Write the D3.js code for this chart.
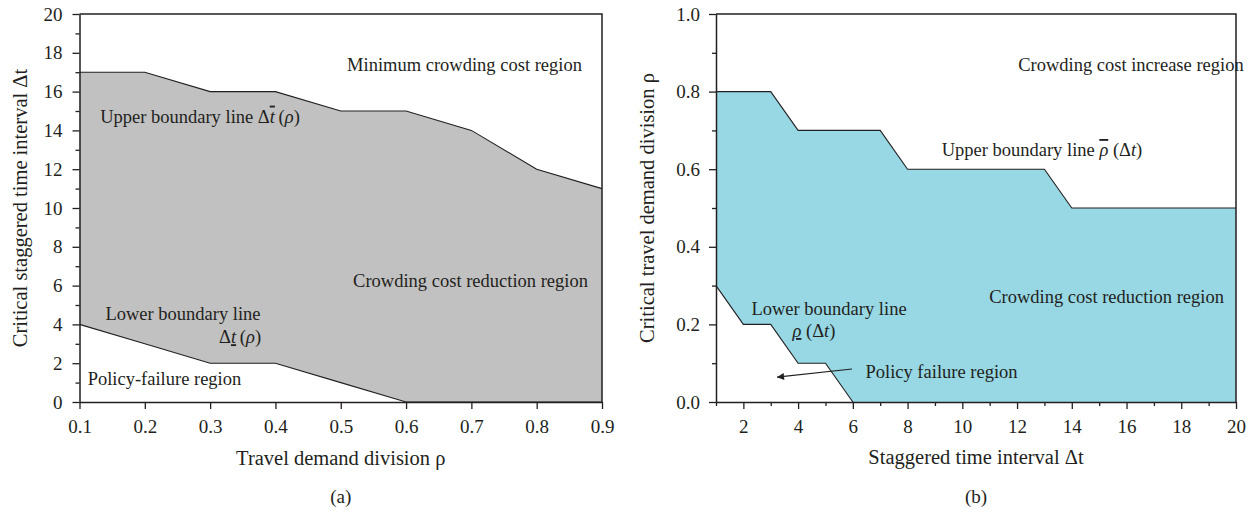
<!DOCTYPE html>
<html>
<head>
<meta charset="utf-8">
<script src="https://cdn.jsdelivr.net/npm/d3@7"></script>
<style>
  html, body { margin: 0; padding: 0; background: #fff; }
  svg { display: block; font-family: "Liberation Serif", "Times New Roman", serif; }
</style>
</head>
<body>
<svg id="chart" width="1255" height="513"></svg>
<script>
// ---- Panel (a): critical staggered interval vs. travel demand division ----
const rhoA    = [0.1, 0.2, 0.3, 0.4, 0.5, 0.6, 0.7, 0.8, 0.9];
const upperA  = [17, 17, 16, 16, 15, 15, 14, 12, 11];
const lowerA  = [4, 3, 2, 2, 1, 0, 0, 0, 0];
const xTicksA = [0.1, 0.2, 0.3, 0.4, 0.5, 0.6, 0.7, 0.8, 0.9];
const yTicksA = [0, 2, 4, 6, 8, 10, 12, 14, 16, 18, 20];
const yMinorA = [1, 3, 5, 7, 9, 11, 13, 15, 17, 19];

// ---- Panel (b): critical travel demand division vs. staggered interval ----
const dtUpperB  = [1, 3, 4, 7, 8, 13, 14, 20];
const rhoUpperB = [0.8, 0.8, 0.7, 0.7, 0.6, 0.6, 0.5, 0.5];
const dtLowerB  = [1, 2, 3, 4, 5, 6];
const rhoLowerB = [0.3, 0.2, 0.2, 0.1, 0.1, 0.0];
const xTicksB = [2, 4, 6, 8, 10, 12, 14, 16, 18, 20];
const xMinorB = [1, 3, 5, 7, 9, 11, 13, 15, 17, 19];
const yTicksB = [0, 0.2, 0.4, 0.6, 0.8, 1.0];
const yMinorB = [0.1, 0.3, 0.5, 0.7, 0.9];

const INK = "#231f20";
const GREY = "#c1c1c1";
const CYAN = "#97d8e4";

const svg = d3.select("#chart");

// Text helper: parts = [{t, it, deco}]
function rich(g, x, y, parts, anchor, size) {
  const t = g.append("text")
    .attr("x", x).attr("y", y)
    .attr("text-anchor", anchor || "start")
    .attr("font-size", size || 18.5)
    .attr("fill", INK);
  parts.forEach(p => {
    const s = t.append("tspan").text(p.t);
    if (p.it) s.attr("font-style", "italic");
    if (p.deco) s.style("text-decoration", p.deco);
  });
  return t;
}

function frame(g, x, y, opts) {
  const [x0, x1] = x.range();
  const [y0, y1] = y.range();
  // bottom axis (major + minor)
  const gx = g.append("g").attr("transform", `translate(0,${y0})`)
    .call(d3.axisBottom(x).tickValues(opts.xTicks).tickFormat(opts.xFmt)
      .tickSize(7).tickSizeOuter(0).tickPadding(10.5));
  if (opts.xMinor) {
    g.append("g").attr("transform", `translate(0,${y0})`)
      .call(d3.axisBottom(x).tickValues(opts.xMinor).tickFormat("")
        .tickSize(4).tickSizeOuter(0))
      .select(".domain").remove();
  }
  const gy = g.append("g").attr("transform", `translate(${x0},0)`)
    .call(d3.axisLeft(y).tickValues(opts.yTicks).tickFormat(opts.yFmt)
      .tickSize(7).tickSizeOuter(0).tickPadding(opts.yPad));
  g.append("g").attr("transform", `translate(${x0},0)`)
    .call(d3.axisLeft(y).tickValues(opts.yMinor).tickFormat("")
      .tickSize(4).tickSizeOuter(0))
    .select(".domain").remove();

  g.selectAll(".tick line").attr("stroke", INK).attr("stroke-width", 1.3);
  g.selectAll(".domain").attr("stroke", INK).attr("stroke-width", 1.5);
  g.selectAll(".tick text")
    .attr("fill", INK)
    .attr("font-size", 19)
    .attr("font-family", "Liberation Serif, Times New Roman, serif");

  // top and right frame edges
  g.append("path")
    .attr("d", `M${x0},${y1}H${x1}V${y0}`)
    .attr("fill", "none").attr("stroke", INK).attr("stroke-width", 1.5);
}

// ================= Panel (a) =================
{
  const g = svg.append("g");
  const x = d3.scaleLinear().domain([0.1, 0.9]).range([79.5, 602]);
  const y = d3.scaleLinear().domain([0, 20]).range([402, 14]);

  const pts = rhoA.map((r, i) => ({ r, up: upperA[i], lo: lowerA[i] }));

  g.append("path").datum(pts)
    .attr("d", d3.area().x(d => x(d.r)).y0(d => y(d.lo)).y1(d => y(d.up)))
    .attr("fill", GREY);

  const line = d3.line().x(d => x(d[0])).y(d => y(d[1]));
  g.append("path").datum(rhoA.map((r, i) => [r, upperA[i]]))
    .attr("d", line).attr("fill", "none").attr("stroke", INK).attr("stroke-width", 1.1);
  g.append("path").datum(rhoA.map((r, i) => [r, lowerA[i]]))
    .attr("d", line).attr("fill", "none").attr("stroke", INK).attr("stroke-width", 1.1);

  frame(g, x, y, {
    xTicks: xTicksA, xFmt: d3.format(".1f"), xMinor: null,
    yTicks: yTicksA, yFmt: d3.format("d"), yMinor: yMinorA, yPad: 10
  });

  rich(g, x(0.6895), y(17.04), [{ t: "Minimum crowding cost region" }], "middle");
  rich(g, x(0.2845), y(14.4), [
    { t: "Upper boundary line Δ" }, { t: "t", it: true, deco: "overline" },
    { t: "\u2009(" }, { t: "ρ", it: true }, { t: ")" }
  ], "middle");
  rich(g, x(0.6987), y(5.94), [{ t: "Crowding cost reduction region" }], "middle");
  rich(g, x(0.2585), y(4.23), [{ t: "Lower boundary line" }], "middle");
  rich(g, x(0.378), y(3.03), [
    { t: "Δ" }, { t: "t", it: true, deco: "underline" },
    { t: "\u2009(" }, { t: "ρ", it: true }, { t: ")" }
  ], "end");
  rich(g, x(0.2301), y(0.88), [{ t: "Policy-failure region" }], "middle");

  const cx = (x.range()[0] + x.range()[1]) / 2;
  rich(g, cx, 465, [{ t: "Travel demand division ρ" }], "middle", 20.5);
  rich(g, cx, 503, [{ t: "(a)" }], "middle", 19);
  g.append("text")
    .attr("transform", `translate(27,${(y.range()[0] + y.range()[1]) / 2}) rotate(-90)`)
    .attr("text-anchor", "middle").attr("font-size", 20.5).attr("fill", INK)
    .text("Critical staggered time interval Δt");
}

// ================= Panel (b) =================
{
  const g = svg.append("g");
  const x = d3.scaleLinear().domain([1, 20]).range([716, 1236]);
  const y = d3.scaleLinear().domain([0, 1]).range([402, 14]);

  const upPts = dtUpperB.map((d, i) => [d, rhoUpperB[i]]);
  const loPts = dtLowerB.map((d, i) => [d, rhoLowerB[i]]);

  // feasible band: area under the upper line, minus the area under the lower line
  const under = d3.area().x(d => x(d[0])).y0(y(0)).y1(d => y(d[1]));
  g.append("path").datum(upPts).attr("d", under).attr("fill", CYAN);
  g.append("path").datum(loPts).attr("d", under).attr("fill", "#fff");

  const line = d3.line().x(d => x(d[0])).y(d => y(d[1]));
  g.append("path").datum(upPts).attr("d", line)
    .attr("fill", "none").attr("stroke", INK).attr("stroke-width", 1.1);
  g.append("path").datum(loPts).attr("d", line)
    .attr("fill", "none").attr("stroke", INK).attr("stroke-width", 1.1);

  frame(g, x, y, {
    xTicks: xTicksB, xFmt: d3.format("d"), xMinor: xMinorB,
    yTicks: yTicksB, yFmt: d3.format(".1f"), yMinor: yMinorB, yPad: 9
  });

  rich(g, x(16.16), y(0.854), [{ t: "Crowding cost increase region" }], "middle");
  rich(g, x(12.91), y(0.634), [
    { t: "Upper boundary line " }, { t: "ρ", it: true, deco: "overline" },
    { t: " (Δ" }, { t: "t", it: true }, { t: ")" }
  ], "middle");
  rich(g, x(15.27), y(0.255), [{ t: "Crowding cost reduction region" }], "middle");
  rich(g, x(5.13), y(0.224), [{ t: "Lower boundary line" }], "middle");
  rich(g, x(4.58), y(0.1675), [
    { t: "ρ", it: true, deco: "underline" },
    { t: " (Δ" }, { t: "t", it: true }, { t: ")" }
  ], "middle");
  rich(g, x(9.24), y(0.0626), [{ t: "Policy failure region" }], "middle");

  // pointer from the label into the failure region
  const arrowFrom = [5.97, 0.085], arrowTo = [3.23, 0.064];
  svg.append("defs").append("marker")
    .attr("id", "head").attr("viewBox", "0 0 10 10")
    .attr("refX", 10).attr("refY", 5)
    .attr("markerWidth", 10).attr("markerHeight", 7)
    .attr("markerUnits", "userSpaceOnUse")
    .attr("orient", "auto")
    .append("path").attr("d", "M0,0L10,5L0,10Z").attr("fill", INK);
  g.append("line")
    .attr("x1", x(arrowFrom[0])).attr("y1", y(arrowFrom[1]))
    .attr("x2", x(arrowTo[0])).attr("y2", y(arrowTo[1]))
    .attr("stroke", INK).attr("stroke-width", 1.1)
    .attr("marker-end", "url(#head)");

  const cx = (x.range()[0] + x.range()[1]) / 2;
  rich(g, cx, 464, [{ t: "Staggered time interval Δt" }], "middle", 20.5);
  rich(g, cx, 503, [{ t: "(b)" }], "middle", 19);
  g.append("text")
    .attr("transform", `translate(654,${(y.range()[0] + y.range()[1]) / 2}) rotate(-90)`)
    .attr("text-anchor", "middle").attr("font-size", 20.5).attr("fill", INK)
    .text("Critical travel demand division ρ");
}
</script>
</body>
</html>
